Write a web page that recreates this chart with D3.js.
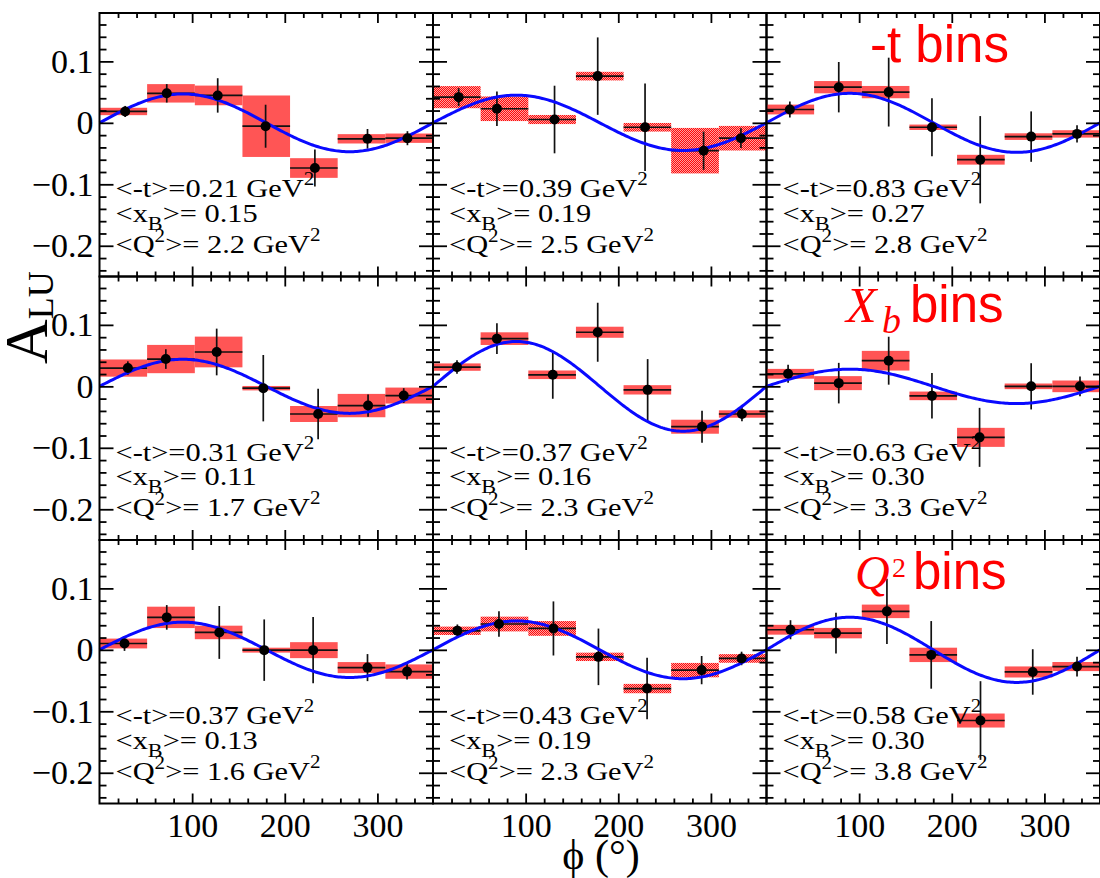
<!DOCTYPE html>
<html>
<head>
<meta charset="utf-8">
<script src="https://cdn.jsdelivr.net/npm/d3@7"></script>
<style>
  html, body { margin: 0; padding: 0; background: #fff; }
  svg { display: block; }
  text { font-family: "Liberation Serif", "Times New Roman", serif; }
</style>
</head>
<body>
<svg id="chart" width="1100" height="878"></svg>
<script>
// ---------------- DATA ----------------
const panelT  = ["0.21", "0.39", "0.83", "0.31", "0.37", "0.63", "0.37", "0.43", "0.58"];
const panelXB = ["0.15", "0.19", "0.27", "0.11", "0.16", "0.30", "0.13", "0.19", "0.30"];
const panelQ2 = ["2.2",  "2.5",  "2.8",  "1.7",  "2.3",  "3.3",  "1.6",  "2.3",  "3.8"];

const phiBinEdges = [0, 51.4, 102.9, 154.3, 205.7, 257.1, 308.6, 360];

const phiMean = [
  [27.7, 72.6, 127.6, 179.3, 232.5, 289.3, 332.4],
  [27.7, 69.0, 131.2, 177.8, 228.9, 292.1, 332.4],
  [25.2, 78.0, 131.9, 178.6, 230.7, 285.7, 335.2],
  [30.6, 71.6, 126.5, 176.8, 236.0, 289.9, 328.4],
  [25.9, 69.0, 129.3, 177.8, 231.7, 290.4, 333.5],
  [23.3, 78.0, 131.9, 178.6, 230.0, 285.7, 338.4],
  [27.0, 72.6, 129.3, 177.8, 230.6, 289.3, 332.0],
  [26.3, 71.2, 130.0, 178.6, 231.1, 290.0, 333.1],
  [25.9, 75.0, 130.0, 177.8, 231.0, 287.4, 335.2]
];

const aluValues = [
  [0.0185, 0.048, 0.0446, -0.0055, -0.0735, -0.026, -0.025],
  [0.0418, 0.0229, 0.0054, 0.076, -0.0072, -0.0453, -0.025],
  [0.0217, 0.058, 0.050, -0.0072, -0.060, -0.0224, -0.018],
  [0.0297, 0.0444, 0.0559, -0.003, -0.045, -0.0313, -0.015],
  [0.0313, 0.0776, 0.0188, 0.088, -0.0057, -0.0657, -0.045],
  [0.0204, 0.0052, 0.0417, -0.0155, -0.083, 0.0, 0.0],
  [0.0103, 0.0528, 0.0283, -0.0005, -0.0005, -0.0289, -0.0354],
  [0.031, 0.042, 0.0348, -0.0114, -0.063, -0.033, -0.014],
  [0.0327, 0.0272, 0.0626, -0.0082, -0.115, -0.036, -0.0272]
];

const statErrors = [
  [0.009, 0.015, 0.028, 0.035, 0.030, 0.016, 0.0114],
  [0.0145, 0.028, 0.055, 0.063, 0.071, 0.031, 0.016],
  [0.013, 0.041, 0.056, 0.047, 0.071, 0.041, 0.014],
  [0.011, 0.016, 0.038, 0.054, 0.041, 0.018, 0.012],
  [0.011, 0.025, 0.039, 0.048, 0.050, 0.026, 0.012],
  [0.0147, 0.033, 0.039, 0.037, 0.048, 0.0376, 0.016],
  [0.012, 0.020, 0.043, 0.050, 0.054, 0.022, 0.0128],
  [0.0103, 0.0207, 0.044, 0.046, 0.050, 0.023, 0.011],
  [0.0155, 0.033, 0.053, 0.055, 0.064, 0.037, 0.016]
];

const sysErrors = [
  [0.006, 0.015, 0.016, 0.050, 0.016, 0.0076, 0.0076],
  [0.018, 0.020, 0.0074, 0.007, 0.007, 0.037, 0.020],
  [0.008, 0.010, 0.010, 0.0044, 0.008, 0.0054, 0.006],
  [0.014, 0.023, 0.025, 0.0036, 0.013, 0.019, 0.013],
  [0.006, 0.0103, 0.007, 0.009, 0.0076, 0.0114, 0.006],
  [0.008, 0.0114, 0.016, 0.007, 0.0155, 0.0046, 0.0095],
  [0.008, 0.0174, 0.011, 0.004, 0.013, 0.009, 0.0117],
  [0.0068, 0.012, 0.012, 0.0068, 0.0076, 0.0117, 0.007],
  [0.008, 0.0085, 0.011, 0.0117, 0.0114, 0.009, 0.0074]
];

// fitted sin(phi) amplitudes
const fitAmplitudes = [0.047, 0.045, 0.048, 0.044, 0.073, 0.028, 0.045, 0.047, 0.053];

const xTickValues = [100, 200, 300];
const xTickLabels = ["100", "200", "300"];
const yTickValues = [-0.2, -0.1, 0, 0.1];
const yTickLabels = ["\u22120.2", "\u22120.1", "0", "0.1"];

// ---------------- LAYOUT ----------------
const left0 = 99.5, top0 = 13, pw = 333.5, ph = 263.5;
const svg = d3.select("#chart");

const defs = svg.append("defs");
const pat = defs.append("pattern").attr("id", "sysPat")
  .attr("patternUnits", "userSpaceOnUse").attr("width", 2).attr("height", 2);
pat.append("rect").attr("width", 2).attr("height", 2).attr("fill", "#ff0a0a");
pat.append("rect").attr("x", 0).attr("y", 0).attr("width", 1).attr("height", 1).attr("fill", "#ffa0a0");
pat.append("rect").attr("x", 1).attr("y", 1).attr("width", 1).attr("height", 1).attr("fill", "#ffa0a0");

const x = d3.scaleLinear().domain([0, 360]).range([0, pw]);
const y = d3.scaleLinear().domain([-0.25, 0.1787]).range([ph, 0]);

const minorX = d3.range(20, 360, 20).filter(v => v % 100 !== 0);
const minorY = d3.range(-24, 18, 2).map(v => v / 100).filter(v => Math.abs(v * 10 - Math.round(v * 10)) > 1e-6);

const phiGrid = d3.range(0, 360.5, 2);

function styleAxis(g) {
  g.attr("font-family", null).attr("font-size", null);
  g.select(".domain").remove();
  g.selectAll(".tick line").attr("stroke", "#000").attr("stroke-width", 1.8);
  g.selectAll(".tick text").attr("fill", "#000");
}

for (let i = 0; i < 9; i++) {
  const col = i % 3, row = Math.floor(i / 3);
  const g = svg.append("g").attr("transform", `translate(${left0 + col * pw},${top0 + row * ph})`);

  // systematic-uncertainty boxes
  g.append("g").selectAll("rect").data(d3.range(7)).join("rect")
    .attr("x", k => x(phiBinEdges[k]))
    .attr("width", k => x(phiBinEdges[k + 1]) - x(phiBinEdges[k]))
    .attr("y", k => y(aluValues[i][k] + sysErrors[i][k]))
    .attr("height", k => y(aluValues[i][k] - sysErrors[i][k]) - y(aluValues[i][k] + sysErrors[i][k]))
    .attr("fill", "url(#sysPat)");

  // error bars
  const eb = g.append("g").attr("stroke", "#111").attr("stroke-width", 1.7);
  eb.selectAll("line.h").data(d3.range(7)).join("line").attr("class", "h")
    .attr("x1", k => x(phiBinEdges[k])).attr("x2", k => x(phiBinEdges[k + 1]))
    .attr("y1", k => y(aluValues[i][k])).attr("y2", k => y(aluValues[i][k]));
  eb.selectAll("line.v").data(d3.range(7)).join("line").attr("class", "v")
    .attr("x1", k => x(phiMean[i][k])).attr("x2", k => x(phiMean[i][k]))
    .attr("y1", k => y(aluValues[i][k] + statErrors[i][k]))
    .attr("y2", k => y(aluValues[i][k] - statErrors[i][k]));

  // fit curve
  const line = d3.line().x(p => x(p)).y(p => y(fitAmplitudes[i] * Math.sin(p * Math.PI / 180)));
  g.append("path").datum(phiGrid).attr("d", line)
    .attr("fill", "none").attr("stroke", "#0a0aff").attr("stroke-width", 3);

  // markers
  g.append("g").selectAll("circle").data(d3.range(7)).join("circle")
    .attr("cx", k => x(phiMean[i][k])).attr("cy", k => y(aluValues[i][k]))
    .attr("r", 5).attr("fill", "#000");

  // axes
  const axL = g.append("g").call(d3.axisLeft(y).tickValues(yTickValues).tickSize(-14).tickPadding(6)
      .tickFormat((d, j) => col === 0 ? yTickLabels[j] : ""));
  styleAxis(axL);
  axL.selectAll(".tick text").style("font-size", "34px");
  styleAxis(g.append("g").call(d3.axisLeft(y).tickValues(minorY).tickSize(-7).tickFormat("")));
  styleAxis(g.append("g").attr("transform", `translate(${pw},0)`)
    .call(d3.axisRight(y).tickValues(yTickValues).tickSize(-14).tickFormat("")));
  styleAxis(g.append("g").attr("transform", `translate(${pw},0)`)
    .call(d3.axisRight(y).tickValues(minorY).tickSize(-7).tickFormat("")));
  const axB = g.append("g").attr("transform", `translate(0,${ph})`)
    .call(d3.axisBottom(x).tickValues(xTickValues).tickSize(-10).tickPadding(9)
      .tickFormat((d, j) => row === 2 ? xTickLabels[j] : ""));
  styleAxis(axB);
  axB.selectAll(".tick text").style("font-size", "34px");
  styleAxis(g.append("g").attr("transform", `translate(0,${ph})`)
    .call(d3.axisBottom(x).tickValues(minorX).tickSize(-5).tickFormat("")));
  styleAxis(g.append("g").call(d3.axisTop(x).tickValues(xTickValues).tickSize(-10).tickFormat("")));
  styleAxis(g.append("g").call(d3.axisTop(x).tickValues(minorX).tickSize(-5).tickFormat("")));

  // frame
  g.append("rect").attr("width", pw).attr("height", ph)
    .attr("fill", "none").attr("stroke", "#000").attr("stroke-width", 2);

  // annotations
  const ann = g.append("g").attr("font-size", 26).attr("fill", "#000");
  const addLine = (yy, build) => {
    const t = ann.append("text").attr("transform", `translate(16,${yy}) scale(1.17,1)`);
    build(t);
  };
  addLine(184.3, t => {
    t.append("tspan").text(`<-t>=${panelT[i]} GeV`);
    t.append("tspan").attr("font-size", 18).attr("dy", -12).text("2");
  });
  addLine(208.5, t => {
    t.append("tspan").text("<x");
    t.append("tspan").attr("font-size", 19).attr("dy", 8).text("B");
    t.append("tspan").attr("dy", -8).text(`>= ${panelXB[i]}`);
  });
  addLine(239.5, t => {
    t.append("tspan").text("<Q");
    t.append("tspan").attr("font-size", 18).attr("dy", -11).text("2");
    t.append("tspan").attr("dy", 11).text(`>= ${panelQ2[i]} GeV`);
    t.append("tspan").attr("font-size", 18).attr("dy", -12).text("2");
  });
}

// red bin labels
const red = "#ff0000";
svg.append("text").attr("x", 870).attr("y", 62).attr("fill", red)
  .style("font-family", "'Liberation Sans', Arial, sans-serif").style("font-size", "51px")
  .text("-t bins");

const xb = svg.append("text").attr("fill", red);
xb.append("tspan").attr("x", 846).attr("y", 321.7)
  .style("font-style", "italic").style("font-size", "50px").text("X");
xb.append("tspan").attr("x", 882).attr("y", 333)
  .style("font-style", "italic").style("font-size", "38px").text("b");
xb.append("tspan").attr("x", 910).attr("y", 321.7)
  .style("font-family", "'Liberation Sans', Arial, sans-serif").style("font-size", "51px").text("bins");

const q2 = svg.append("text").attr("fill", red);
q2.append("tspan").attr("x", 855).attr("y", 589)
  .style("font-style", "italic").style("font-size", "48px").text("Q");
q2.append("tspan").attr("x", 892).attr("y", 577)
  .style("font-size", "28px").text("2");
q2.append("tspan").attr("x", 913).attr("y", 589)
  .style("font-family", "'Liberation Sans', Arial, sans-serif").style("font-size", "51px").text("bins");

// axis titles
const yt = svg.append("text").attr("transform", "translate(47,364) rotate(-90)").attr("fill", "#000");
yt.append("tspan").style("font-size", "62px").text("A");
yt.append("tspan").attr("dy", 6).style("font-size", "36px").text("LU");

svg.append("text").attr("x", 601).attr("y", 869).attr("text-anchor", "middle")
  .attr("fill", "#000").style("font-size", "42px").text("\u03D5 (\u00B0)");
</script>
</body>
</html>
